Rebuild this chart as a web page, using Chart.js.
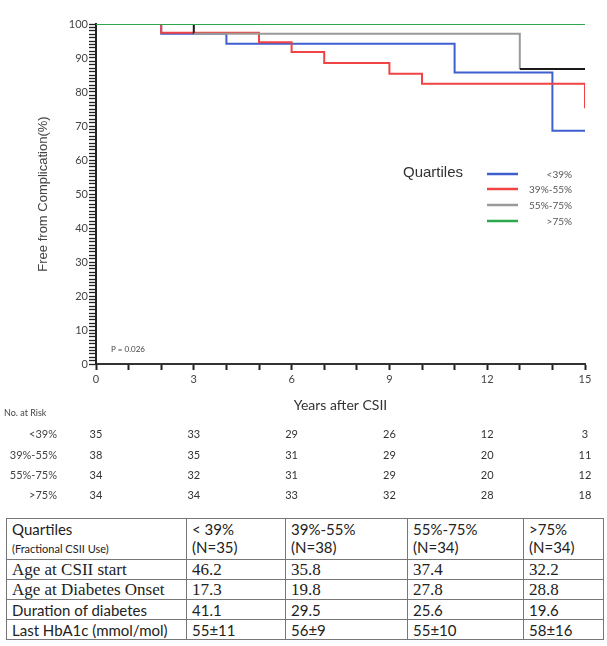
<!DOCTYPE html>
<html lang="en">
<head>
  <meta charset="UTF-8" />
  <title>Free from Complication by Quartile</title>
  <script src="https://cdn.jsdelivr.net/npm/chart.js"></script>
  <style>
    body {
      margin: 0;
      background: #fff;
      width: 607px;
      height: 646px;
      position: relative;
      overflow: hidden;
    }

    #chart {
      position: absolute;
      left: 0;
      top: 0;
    }

    table {
      position: absolute;
      left: 6px;
      top: 518px;
      border-collapse: collapse;
      table-layout: fixed;
      color: #222;
    }

    td {
      border: 1px solid #777;
      padding: 0 0 0 5px;
      height: 19px;
      font-family: Lato, sans-serif;
      font-size: 15px;
      line-height: 18px;
      white-space: nowrap;
      overflow: hidden;
    }

    tr.head td {
      height: 39px;
      vertical-align: top;
      padding-top: 1px;
    }

    td.serif {
      font-family: "Liberation Serif", serif;
      font-size: 17px;
    }

    .sub {
      font-size: 11px;
    }
  </style>
</head>
<body>
  <canvas id="chart" width="607" height="515"></canvas>

  <table>
    <colgroup>
      <col style="width:180px"><col style="width:99px"><col style="width:122px"><col style="width:116px"><col style="width:80px">
    </colgroup>
    <tbody id="info"></tbody>
  </table>

  <script>
    // Kaplan-Meier curves
    const quartiles = ["<39%", "39%-55%", "55%-75%", ">75%"];

    const timesLt39 = [0, 2, 4, 11, 14, 15];
    const survLt39 = [100, 97.1, 94.2, 85.7, 68.6, 68.6];

    const times3955 = [0, 2, 5, 6, 7, 9, 10, 15, 15];
    const surv3955 = [100, 97.4, 94.6, 91.8, 88.5, 85.4, 82.4, 82.4, 75.2];

    const times5575 = [0, 3, 13, 15];
    const surv5575 = [100, 97.1, 86.8, 86.8];

    const timesGt75 = [0, 15];
    const survGt75 = [100, 100];

    // number at risk
    const riskYears = [0, 3, 6, 9, 12, 15];
    const riskLt39 = [35, 33, 29, 26, 12, 3];
    const risk3955 = [38, 35, 31, 29, 20, 11];
    const risk5575 = [34, 32, 31, 29, 20, 12];
    const riskGt75 = [34, 34, 33, 32, 28, 18];

    // characteristics table
    const tableHead = ["< 39%", "39%-55%", "55%-75%", ">75%"];
    const groupN = [35, 38, 34, 34];
    const rowLabels = ["Age at CSII start", "Age at Diabetes Onset", "Duration of diabetes", "Last HbA1c (mmol/mol)"];
    const ageStart = ["46.2", "35.8", "37.4", "32.2"];
    const ageOnset = ["17.3", "19.8", "27.8", "28.8"];
    const duration = ["41.1", "29.5", "25.6", "19.6"];
    const hba1c = ["55±11", "56±9", "55±10", "58±16"];

    const colors = ["#3f5fcf", "#f04444", "#9a9a9a", "#2ea84c"];

    const toPoints = (xs, ys) => xs.map((x, i) => ({ x: x, y: ys[i] }));

    const series = [
      toPoints(timesLt39, survLt39),
      toPoints(times3955, surv3955),
      toPoints(times5575, surv5575),
      toPoints(timesGt75, survGt75)
    ];
    const riskRows = [riskLt39, risk3955, risk5575, riskGt75];
    const drawOrder = [3, 2, 1, 0];

    const datasets = series.map((pts, i) => ({
      label: quartiles[i],
      data: pts,
      borderColor: colors[i],
      borderWidth: 2,
      pointRadius: 0,
      stepped: true,
      fill: false,
      order: drawOrder[i]
    }));
    // 55-75% curve is drawn black at the first drop and after year 13
    datasets[2].segment = {
      borderColor: c => (c.p0.parsed.x < 3 || c.p0.parsed.x >= 13) ? "#1a1a1a" : colors[2]
    };

    const extras = {
      id: "extras",
      afterDraw(chart) {
        const ctx = chart.ctx;
        const xs = chart.scales.x;
        ctx.save();

        // legend
        ctx.fillStyle = "#333";
        ctx.font = "15px 'Liberation Sans', sans-serif";
        ctx.textAlign = "left";
        ctx.textBaseline = "middle";
        ctx.fillText("Quartiles", 403, 173);
        const legY = [174, 189, 205, 221];
        ctx.font = "10px Lato, sans-serif";
        ctx.textAlign = "right";
        quartiles.forEach((q, i) => {
          ctx.strokeStyle = colors[i];
          ctx.lineWidth = 2.5;
          ctx.beginPath();
          ctx.moveTo(487, legY[i]);
          ctx.lineTo(518, legY[i]);
          ctx.stroke();
          ctx.fillStyle = "#555";
          ctx.fillText(q, 572, legY[i] + 1);
        });

        // p value
        ctx.textAlign = "left";
        ctx.fillStyle = "#444";
        ctx.font = "8px Lato, sans-serif";
        ctx.fillText("P = 0.026", 111, 349);

        // number at risk
        ctx.font = "9px Lato, sans-serif";
        ctx.fillText("No. at Risk", 4, 413);
        const rowY = [434, 455, 475, 495];
        ctx.font = "11px Lato, sans-serif";
        riskRows.forEach((row, r) => {
          ctx.fillStyle = "#444";
          ctx.textAlign = "right";
          ctx.fillText(quartiles[r], 57, rowY[r]);
          ctx.textAlign = "center";
          ctx.fillStyle = "#333";
          row.forEach((n, k) => {
            ctx.fillText(String(n), xs.getPixelForValue(riskYears[k]), rowY[r]);
          });
        });
        ctx.restore();
      }
    };

    new Chart(document.getElementById("chart"), {
      type: "line",
      data: { datasets: datasets },
      options: {
        responsive: false,
        animation: false,
        layout: { padding: { left: 36, top: 24, right: 22, bottom: 101 } },
        plugins: { legend: { display: false }, tooltip: { enabled: false } },
        scales: {
          x: {
            type: "linear",
            min: 0,
            max: 15,
            afterFit: s => { s.height = 50; },
            border: { color: "#333", width: 2 },
            grid: { drawOnChartArea: false, tickLength: 6, tickWidth: 2, tickColor: "#222" },
            ticks: {
              stepSize: 1,
              autoSkip: false,
              maxRotation: 0,
              padding: 3,
              color: "#444",
              font: { family: "Lato", size: 11 },
              callback: v => (v % 3 === 0 ? v : "")
            },
            title: {
              display: true,
              text: "Years after CSII",
              color: "#333",
              padding: 0,
              font: { family: "Lato", size: 14 }
            }
          },
          y: {
            min: 0,
            max: 100,
            afterFit: s => { s.width = 60; },
            border: { color: "#222", width: 2 },
            grid: { drawOnChartArea: false, tickLength: 7, tickWidth: 1.3, tickColor: "#222" },
            ticks: {
              stepSize: 1,
              autoSkip: false,
              maxTicksLimit: 200,
              padding: 1,
              color: "#444",
              font: { family: "Lato", size: 11 },
              callback: v => (v % 10 === 0 ? v : "")
            },
            title: {
              display: true,
              text: "Free from Complication(%)",
              color: "#444",
              padding: 0,
              font: { family: "Liberation Sans", size: 13 }
            }
          }
        }
      },
      plugins: [extras]
    });

    // characteristics table below the chart
    const info = document.getElementById("info");
    let html = '<tr class="head"><td>Quartiles<br><span class="sub">(Fractional CSII Use)</span></td>';
    tableHead.forEach((h, i) => { html += `<td>${h}<br>(N=${groupN[i]})</td>`; });
    html += "</tr>";
    const rows = [ageStart, ageOnset, duration, hba1c];
    const serifRow = [true, true, false, false];
    rows.forEach((vals, r) => {
      const cls = serifRow[r] ? ' class="serif"' : "";
      html += `<tr><td${cls}>${rowLabels[r]}</td>` + vals.map(v => `<td${cls}>${v}</td>`).join("") + "</tr>";
    });
    info.innerHTML = html;
  </script>
</body>
</html>
